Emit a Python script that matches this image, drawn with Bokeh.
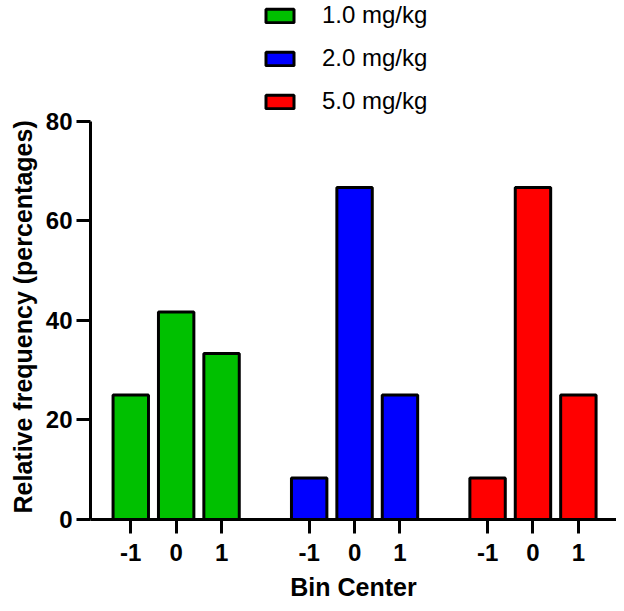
from bokeh.plotting import figure
from bokeh.models import FixedTicker, Legend, LegendItem, Range1d, Title
from bokeh.embed import file_html
from bokeh.resources import INLINE

# ---- data ----
bin_labels = ["-1", "0", "1"]
series_names = ["1.0 mg/kg", "2.0 mg/kg", "5.0 mg/kg"]
dose_1 = [25.0, 41.67, 33.33]
dose_2 = [8.33, 66.67, 25.0]
dose_5 = [8.33, 66.67, 25.0]
series_values = [dose_1, dose_2, dose_5]
colors = ["#00C000", "#0000FF", "#FF0000"]
y_ticks = [0, 20, 40, 60, 80]
y_max = 80
x_title = "Bin Center"
y_title = "Relative frequency (percentages)"

group_step = 3.93
FONT = "Liberation Sans"

p = figure(width=616, height=603, output_backend="svg", toolbar_location=None,
           x_range=Range1d(-0.887, 10.70), y_range=Range1d(0, 104.2),
           min_border_left=81, min_border_right=0, min_border_top=0,
           min_border_bottom=82)
p.outline_line_color = None
p.xgrid.visible = False
p.ygrid.visible = False
p.background_fill_color = None
p.border_fill_color = "white"

renderers = []
tick_pos = []
overrides = {}
for g, (name, vals, col) in enumerate(zip(series_names, series_values, colors)):
    xs = [g * group_step + i for i in range(len(vals))]
    for x, lab in zip(xs, bin_labels):
        tick_pos.append(x)
        overrides[x] = lab
    r = p.vbar(x=xs, top=vals, bottom=0, width=0.78, fill_color=col,
               line_color="black", line_width=3)
    renderers.append((name, r))

# axes styling
for ax in (p.xaxis[0], p.yaxis[0]):
    ax.axis_line_width = 3
    ax.axis_line_color = "black"
    ax.major_tick_line_width = 3
    ax.major_tick_line_color = "black"
    ax.major_tick_in = 0
    ax.minor_tick_line_color = None
    ax.major_label_text_font = FONT
    ax.major_label_text_font_style = "bold"
    ax.major_label_text_font_size = "24px"
    ax.major_label_text_color = "black"
    ax.major_label_text_line_height = 0.8
    ax.axis_label_text_font = FONT
    ax.axis_label_text_font_style = "bold"
    ax.axis_label_text_font_size = "25px"
    ax.axis_label_text_color = "black"
    ax.axis_label_text_line_height = 0.8

p.xaxis.ticker = FixedTicker(ticks=tick_pos)
p.xaxis.major_label_overrides = overrides
p.xaxis.major_tick_out = 14
p.xaxis.major_label_standoff = 10
p.xaxis.axis_label = x_title
p.xaxis.axis_label_standoff = 9

p.yaxis.ticker = FixedTicker(ticks=y_ticks)
p.yaxis.bounds = (0, y_max)
p.yaxis.major_tick_out = 14
p.yaxis.major_label_standoff = 4

# y-axis title centred on the visible 0..80 axis, not on the whole frame
ytitle = Title(text=y_title, align="left", offset=6, vertical_align="bottom",
               standoff=12, text_font=FONT, text_font_style="bold",
               text_font_size="25px", text_color="black")
p.add_layout(ytitle, "left")

legend = Legend(items=[LegendItem(label=n, renderers=[r]) for n, r in renderers],
                location=(172, 404), orientation="vertical",
                glyph_width=35, glyph_height=17, label_height=17,
                label_standoff=25, spacing=15, padding=0, margin=0,
                border_line_color=None, background_fill_alpha=0,
                label_text_font=FONT, label_text_font_size="24px",
                label_text_color="black")
p.add_layout(legend, "center")

open("out.html", "w").write(file_html(p, INLINE))
